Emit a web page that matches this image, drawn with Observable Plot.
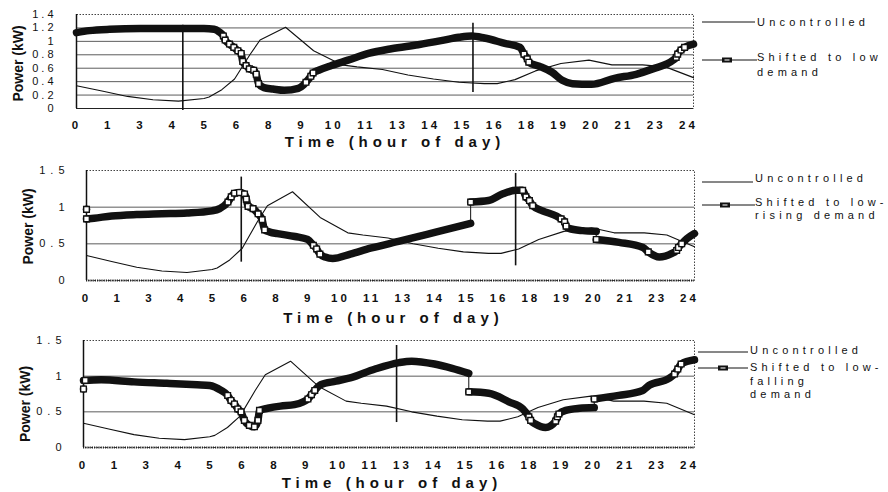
<!DOCTYPE html>
<html><head><meta charset="utf-8">
<script src="https://cdn.jsdelivr.net/npm/d3@7"></script>
<script src="https://cdn.jsdelivr.net/npm/@observablehq/plot@0.6"></script>
<style>
html,body{margin:0;padding:0;background:#fff;}
#chart{position:relative;width:888px;height:492px;font-family:"Liberation Sans",Arial,sans-serif;color:#111;overflow:hidden;}
.pw{position:absolute;left:0;}
.pw svg{overflow:visible;}
.legtext{position:absolute;font-size:11px;letter-spacing:4.2px;white-space:nowrap;color:#111;}
#legsvg{position:absolute;left:0;top:0;}
</style>
</head><body>
<div id="chart"><svg id="legsvg" width="888" height="492"></svg></div>
<script>
// ---------- data ----------
const xTickLabels = [0, 1, 3, 4, 5, 6, 8, 9, 10, 11, 13, 14, 15, 16, 18, 19, 20, 21, 23, 24];
const yTicksTop = [0, 0.2, 0.4, 0.6, 0.8, 1, 1.2, 1.4];
const yTicksLower = [0, 0.5, 1, 1.5];

const uncHours = [0, 1, 2, 3, 4, 5, 5.2, 5.7, 6.2, 6.8, 7.2, 8.2, 9.3, 10.4, 11, 12, 13, 14, 15, 16, 16.5, 17.2, 18, 19, 20.1, 21, 22.2, 23.1, 24.2];
const uncPower = [0.34, 0.26, 0.18, 0.13, 0.11, 0.15, 0.17, 0.28, 0.44, 0.80, 1.02, 1.21, 0.86, 0.65, 0.62, 0.58, 0.50, 0.44, 0.39, 0.37, 0.37, 0.43, 0.56, 0.67, 0.72, 0.65, 0.65, 0.62, 0.46];

const lowHours = [0, 0.5, 1.3, 2.5, 4, 5, 5.4, 5.6, 5.76, 5.83, 6.0, 6.17, 6.33, 6.46, 6.52, 6.65, 6.78, 6.95, 7.05, 7.14, 7.35, 7.7, 8.15, 8.7, 8.9, 9.0, 9.19, 9.28, 9.5, 10.0, 10.65, 11.45, 12.35, 13.4, 14.3, 15.0, 15.5, 16.0, 16.8, 17.4, 17.55, 17.68, 17.74, 18.15, 18.65, 19.05, 19.45, 20.2, 21.1, 21.95, 22.6, 23.4, 23.52, 23.58, 23.71, 23.85, 24.2];
const lowPower = [1.13, 1.16, 1.18, 1.19, 1.19, 1.19, 1.18, 1.14, 1.08, 1.02, 0.96, 0.91, 0.86, 0.82, 0.70, 0.64, 0.59, 0.57, 0.51, 0.37, 0.31, 0.29, 0.27, 0.30, 0.35, 0.39, 0.48, 0.53, 0.57, 0.64, 0.72, 0.82, 0.89, 0.95, 1.01, 1.06, 1.08, 1.05, 0.97, 0.91, 0.81, 0.74, 0.69, 0.63, 0.54, 0.42, 0.37, 0.36, 0.45, 0.51, 0.59, 0.72, 0.76, 0.81, 0.87, 0.91, 0.96];
const lowMarks = [[5.76,1.08],[5.83,1.02],[6.0,0.96],[6.17,0.91],[6.33,0.86],[6.46,0.82],[6.52,0.70],[6.65,0.64],[6.78,0.59],[6.95,0.57],[7.05,0.51],[7.14,0.37],[9.0,0.39],[9.19,0.48],[9.28,0.53],[17.55,0.81],[17.68,0.74],[17.74,0.69],[23.52,0.76],[23.58,0.81],[23.71,0.87],[23.85,0.91]];
const lowRules = [[4.17, -0.03, 1.24], [15.55, 0.24, 1.27]];

const risingHours = [0, 0, 0.3, 1, 2, 3, 4, 5, 5.3, 5.63, 5.76, 5.89, 6.09, 6.29, 6.36, 6.43, 6.63, 6.83, 6.99, 7.09, 7.3, 7.6, 8.3, 8.8, 9.03, 9.16, 9.29, 9.5, 9.8, 10.5, 11.3, 12.5, 13.9, 15.29, 15.29, 16.0, 16.55, 17.1, 17.36, 17.49, 17.63, 17.76, 18.15, 18.7, 18.89, 19.03, 19.09, 19.2, 19.75, 20.29, 20.29, 21.2, 22.15, 22.36, 22.8, 23.3, 23.49, 23.56, 23.69, 23.9, 24.2];
const risingPower = [0.97, 0.84, 0.85, 0.88, 0.90, 0.91, 0.92, 0.95, 0.98, 1.07, 1.14, 1.19, 1.20, 1.18, 1.11, 1.01, 0.98, 0.91, 0.83, 0.69, 0.66, 0.64, 0.60, 0.56, 0.48, 0.43, 0.36, 0.32, 0.30, 0.36, 0.44, 0.54, 0.66, 0.78, 1.07, 1.09, 1.18, 1.23, 1.23, 1.14, 1.09, 1.02, 0.95, 0.88, 0.84, 0.80, 0.74, 0.71, 0.68, 0.67, 0.56, 0.52, 0.45, 0.39, 0.32, 0.37, 0.41, 0.45, 0.50, 0.57, 0.64];
const risingMarks = [[0,0.97],[0,0.84],[5.63,1.07],[5.76,1.14],[5.89,1.19],[6.09,1.2],[6.29,1.18],[6.36,1.11],[6.43,1.01],[6.63,0.98],[6.83,0.91],[6.99,0.83],[7.09,0.69],[9.03,0.48],[9.16,0.43],[9.29,0.36],[15.29,1.07],[17.36,1.23],[17.49,1.14],[17.63,1.09],[17.76,1.02],[18.89,0.84],[19.03,0.8],[19.09,0.74],[20.29,0.56],[22.36,0.39],[23.49,0.41],[23.56,0.45],[23.69,0.5]];
const risingRules = [[6.16, 0.25, 1.41], [17.08, 0.2, 1.46]];

const fallingHours = [0, 0, 0.7, 2, 3.3, 4.5, 5.0, 5.45, 5.71, 5.84, 5.98, 6.11, 6.24, 6.37, 6.57, 6.77, 6.91, 6.97, 7.3, 7.8, 8.35, 8.7, 8.89, 9.03, 9.16, 9.4, 10.0, 10.6, 11.55, 12.5, 13.0, 13.9, 14.6, 15.26, 15.26, 16.05, 16.85, 17.4, 17.64, 17.71, 17.9, 18.3, 18.7, 18.77, 18.83, 19.1, 19.65, 20.23, 20.23, 21.2, 22.15, 22.4, 23.2, 23.41, 23.54, 23.67, 24.2];
const fallingPower = [0.82, 0.94, 0.95, 0.92, 0.90, 0.88, 0.87, 0.80, 0.73, 0.66, 0.61, 0.54, 0.50, 0.38, 0.31, 0.29, 0.38, 0.52, 0.55, 0.58, 0.60, 0.64, 0.68, 0.74, 0.80, 0.88, 0.93, 0.98, 1.10, 1.19, 1.21, 1.17, 1.11, 1.04, 0.78, 0.76, 0.64, 0.54, 0.43, 0.38, 0.33, 0.28, 0.37, 0.43, 0.47, 0.52, 0.55, 0.56, 0.68, 0.73, 0.80, 0.87, 0.97, 1.03, 1.10, 1.17, 1.23];
const fallingMarks = [[0,0.82],[0.07,0.94],[5.71,0.73],[5.84,0.66],[5.98,0.61],[6.11,0.54],[6.24,0.5],[6.37,0.38],[6.57,0.31],[6.77,0.29],[6.91,0.38],[6.97,0.52],[8.89,0.68],[9.03,0.74],[9.16,0.8],[15.26,0.78],[17.64,0.43],[17.71,0.38],[18.7,0.37],[18.77,0.43],[18.83,0.47],[20.23,0.68],[23.41,1.03],[23.54,1.1],[23.67,1.17]];
const fallingRules = [[12.4, 0.35, 1.43]];

const legendUncontrolled = "Uncontrolled";
const legendShifted = [["Shifted to low", "demand"], ["Shifted to low-", "rising demand"], ["Shifted to low-", "falling", "demand"]];
const xTitle = "Time (hour of day)";
const yTitle = "Power (kW)";

// ---------- build ----------
const xTicks = xTickLabels.map((_, i) => i * 24 / (xTickLabels.length - 1));
const uncontrolled = uncHours.map((t, i) => ({t, v: uncPower[i]}));
function withSegments(hours, power) {
  let s = 0;
  return hours.map((t, i) => { if (i > 0 && t === hours[i - 1]) s++; return {t, v: power[i], s}; });
}

const panels = [
  {top: 0, height: 150, mt: 14, mb: 42, ml: 76, mr: 195, yMax: 1.4, yTicks: yTicksTop, yls: 3,
   hours: lowHours, power: lowPower, marks: lowMarks, rules: lowRules, xpad: 12, ypad: 20, tdx: 10, tdy: 34, ydy: 2, ydx: -57.5, dotted: false},
  {top: 150, height: 176, mt: 20, mb: 46, ml: 86, mr: 194, yMax: 1.5, yTicks: yTicksLower, yls: 5,
   hours: risingHours, power: risingPower, marks: risingMarks, rules: risingRules, xpad: 13, ypad: 17, tdx: 3, tdy: 38, ydy: 1, ydx: -57.5, dotted: true},
  {top: 326, height: 166, mt: 14, mb: 45, ml: 83, mr: 194, yMax: 1.5, yTicks: yTicksLower, yls: 5,
   hours: fallingHours, power: fallingPower, marks: fallingMarks, rules: fallingRules, xpad: 13, ypad: 17, tdx: 3, tdy: 36, ydy: 10, ydx: -58, dotted: true}
];

const root = document.getElementById("chart");
for (const p of panels) {
  const data = withSegments(p.hours, p.power);
  const grid = p.yTicks.filter(d => d > 0 && d < p.yMax);
  const chart = Plot.plot({
    width: 888, height: p.height,
    marginTop: p.mt, marginBottom: p.mb, marginLeft: p.ml, marginRight: p.mr,
    style: {fontFamily: "Liberation Sans, Arial, sans-serif", background: "transparent", color: "#111", overflow: "visible"},
    x: {domain: [0, 24.2]},
    y: {domain: [0, p.yMax]},
    marks: [
      Plot.gridY(grid, {stroke: "#4a4a4a", strokeOpacity: 1, strokeWidth: 0.9}),
      Plot.frame({stroke: "#444", strokeDasharray: "1.5,1.5"}),
      Plot.ruleX([0], {stroke: "#111", strokeWidth: 1.5}),
      p.dotted
        ? Plot.ruleY([0], {stroke: "#222", strokeWidth: 2.2, strokeDasharray: "1.2,1"})
        : Plot.ruleY([0], {stroke: "#222", strokeWidth: 1.2}),
      Plot.line(uncontrolled, {x: "t", y: "v", stroke: "#111", strokeWidth: 1.1}),
      Plot.ruleX(p.rules, {x: d => d[0], y1: d => d[1], y2: d => d[2], stroke: "#111", strokeWidth: 1.6}),
      Plot.line(data, {x: "t", y: "v", stroke: "#111", strokeWidth: 1}),
      Plot.line(data, {x: "t", y: "v", z: "s", stroke: "#111", strokeWidth: 7.5, curve: "monotone-x", strokeLinecap: "round", strokeLinejoin: "round"}),
      Plot.dot(p.marks, {x: d => d[0], y: d => d[1], symbol: "square", r: 3.2, fill: "white", stroke: "#111", strokeWidth: 1.4}),
      Plot.axisX(xTicks, {tickSize: 0, tickPadding: p.xpad, tickFormat: d => String(xTickLabels[Math.round(d * (xTickLabels.length - 1) / 24)]), label: null, fill: "#111", fontSize: 11.5, fontWeight: "bold"}),
      Plot.axisY(p.yTicks, {tickSize: 0, tickPadding: p.ypad, tickFormat: d => String(d), label: null, fill: "#111", fontSize: 11}),
      Plot.text([xTitle], {text: d => d, frameAnchor: "bottom", lineAnchor: "middle", textAnchor: "middle", dx: p.tdx, dy: p.tdy, fontSize: 15, fontWeight: "bold", fill: "#111"}),
      Plot.text([yTitle], {text: d => d, frameAnchor: "left", textAnchor: "middle", lineAnchor: "middle", rotate: -90, dx: p.ydx, dy: p.ydy, fontSize: 14, fontWeight: "bold", fill: "#111"})
    ]
  });
  const wrap = document.createElement("div");
  wrap.className = "pw";
  wrap.style.top = p.top + "px";
  wrap.appendChild(chart);
  root.appendChild(wrap);
  // letter spacing like the scanned original
  const xLabelSet = new Set(xTickLabels.map(String));
  d3.select(chart).selectAll("text").each(function() {
    const t = this.textContent;
    const anchor = getComputedStyle(this).textAnchor;
    if (t === xTitle) { this.style.letterSpacing = "5px"; }
    else if (t === yTitle) { }
    else if (anchor === "end") { this.style.letterSpacing = p.yls + "px"; this.style.fontSize = "11px"; }
    else if (xLabelSet.has(t)) { this.style.letterSpacing = "3px"; this.style.fontWeight = "bold"; this.style.fontSize = "11.5px"; }
  });
}

// ---------- legends ----------
const legCfg = [
  {ux1: 702, ux2: 755, uy: 22, utx: 757, uTop: 15.5, sx1: 702, sx2: 757, sy: 60, smx: 727, stx: 757, sTop: 50, lh: 15},
  {ux1: 702, ux2: 753, uy: 182, utx: 755, uTop: 171.5, sx1: 702, sx2: 755, sy: 205, smx: 725, stx: 755, sTop: 195.5, lh: 13},
  {ux1: 698, ux2: 748, uy: 352, utx: 750, uTop: 343.5, sx1: 698, sx2: 748, sy: 368, smx: 723, stx: 750, sTop: 361.2, lh: 13.5}
];
const legsvg = d3.select("#legsvg");
legCfg.forEach((c, i) => {
  legsvg.append("line").attr("x1", c.ux1).attr("x2", c.ux2).attr("y1", c.uy).attr("y2", c.uy).attr("stroke", "#111").attr("stroke-width", 1);
  legsvg.append("line").attr("x1", c.sx1).attr("x2", c.sx2).attr("y1", c.sy).attr("y2", c.sy).attr("stroke", "#111").attr("stroke-width", 1);
  legsvg.append("rect").attr("x", c.smx - 5).attr("y", c.sy - 2.5).attr("width", 10).attr("height", 5).attr("fill", "#111");
  legsvg.append("rect").attr("x", c.smx - 2.5).attr("y", c.sy - 0.6).attr("width", 5).attr("height", 1.2).attr("fill", "#ddd");
  const u = document.createElement("div");
  u.className = "legtext";
  u.style.left = c.utx + "px"; u.style.top = c.uTop + "px"; u.style.lineHeight = "13px";
  u.textContent = legendUncontrolled;
  root.appendChild(u);
  const s = document.createElement("div");
  s.className = "legtext";
  s.style.left = c.stx + "px"; s.style.top = c.sTop + "px"; s.style.lineHeight = c.lh + "px";
  s.innerHTML = legendShifted[i].join("<br>");
  root.appendChild(s);
});
</script>
</body></html>
